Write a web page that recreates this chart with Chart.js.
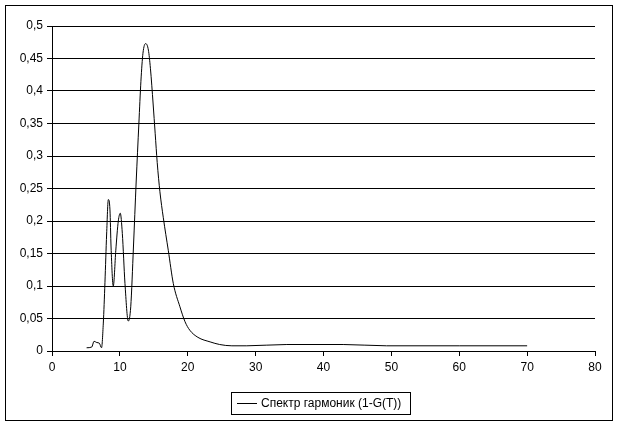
<!DOCTYPE html>
<html>
<head>
<meta charset="utf-8">
<script src="https://cdn.jsdelivr.net/npm/chart.js@4"></script>
<style>
  html, body { margin: 0; padding: 0; background: #fff; }
  #wrap { width: 620px; height: 427px; }
</style>
</head>
<body>
<div id="wrap"><canvas id="container" width="620" height="427"></canvas></div>
<script>
// data
const seriesName = 'Спектр гармоник (1-G(T))';
const xValues = [5.1, 5.85, 6.2, 6.6, 6.97, 7.3, 7.56, 7.8, 8.05, 8.3, 8.54, 8.7, 9.03, 9.4, 9.77, 10.06, 10.36, 10.75,
                 11.24, 11.6, 12.0, 12.4, 12.8, 13.1, 13.4, 13.8, 14.2, 14.5, 14.9, 15.2, 15.5, 15.9,
                 16.4, 17.13, 17.87, 18.85, 19.6, 20.3, 21.5, 23.3, 24.7, 26.5, 28.7, 34.6, 42.9, 49.3, 60, 70];
const yValues = [0.005, 0.006, 0.015, 0.013, 0.012, 0.005, 0.043, 0.105, 0.18, 0.233, 0.217, 0.16, 0.1, 0.155, 0.2, 0.212, 0.181, 0.104,
                 0.046, 0.068, 0.16, 0.26, 0.35, 0.415, 0.458, 0.473, 0.463, 0.435, 0.38, 0.335, 0.29, 0.245,
                 0.205, 0.155, 0.104, 0.068, 0.045, 0.032, 0.021, 0.014, 0.010, 0.008, 0.008, 0.010, 0.010, 0.008, 0.008, 0.008];
const xTicks = [0, 10, 20, 30, 40, 50, 60, 70, 80];
const yTicks = [0, 0.05, 0.1, 0.15, 0.2, 0.25, 0.3, 0.35, 0.4, 0.45, 0.5];

const points = xValues.map((x, i) => ({ x: x, y: yValues[i] }));
const font = { family: "'Liberation Sans', Arial, sans-serif", size: 12 };

// frame + boxed legend, excel style
const excelFrame = {
    id: 'excelFrame',
    afterDraw(chart) {
        const c = chart.ctx;
        c.save();
        c.strokeStyle = '#000';
        c.lineWidth = 1;
        c.strokeRect(5.5, 5.5, 607, 415);
        c.strokeRect(231.5, 392.5, 179, 22);
        c.beginPath();
        c.moveTo(237, 403.5);
        c.lineTo(257, 403.5);
        c.stroke();
        c.fillStyle = '#000';
        c.font = '12px ' + font.family;
        c.textBaseline = 'middle';
        c.fillText(seriesName, 261, 404);
        c.restore();
    }
};

const config = {
    type: 'scatter',
    data: {
        datasets: [{
            label: seriesName,
            data: points,
            showLine: true,
            borderColor: '#000',
            borderWidth: 1,
            pointRadius: 0,
            cubicInterpolationMode: 'monotone',
            fill: false
        }]
    },
    options: {
        responsive: false,
        animation: false,
        layout: { padding: { left: 0, right: 25, top: 26, bottom: 0 } },
        plugins: {
            legend: { display: false },
            tooltip: { enabled: false }
        },
        scales: {
            x: {
                type: 'linear',
                min: 0,
                max: 80,
                afterBuildTicks: (s) => { s.ticks = xTicks.map(v => ({ value: v })); },
                afterFit: (s) => { s.height = 76; },
                grid: { drawOnChartArea: false, drawTicks: true, tickLength: 5, color: '#000' },
                border: { display: true, color: '#000', width: 1 },
                ticks: { color: '#000', font: font, padding: 4, maxRotation: 0 }
            },
            y: {
                type: 'linear',
                min: 0,
                max: 0.5,
                afterBuildTicks: (s) => { s.ticks = yTicks.map(v => ({ value: v })); },
                afterFit: (s) => { s.width = 52; },
                grid: { color: '#000', lineWidth: 1, drawTicks: true, tickLength: 5 },
                border: { display: true, color: '#000', width: 1 },
                ticks: {
                    color: '#000',
                    font: font,
                    padding: 4,
                    callback: (v) => String(Math.round(v * 100) / 100).replace('.', ',')
                }
            }
        }
    },
    plugins: [excelFrame]
};

let ctx = document.getElementById('container').getContext('2d');
let chart = new Chart(ctx, config);
</script>
</body>
</html>
